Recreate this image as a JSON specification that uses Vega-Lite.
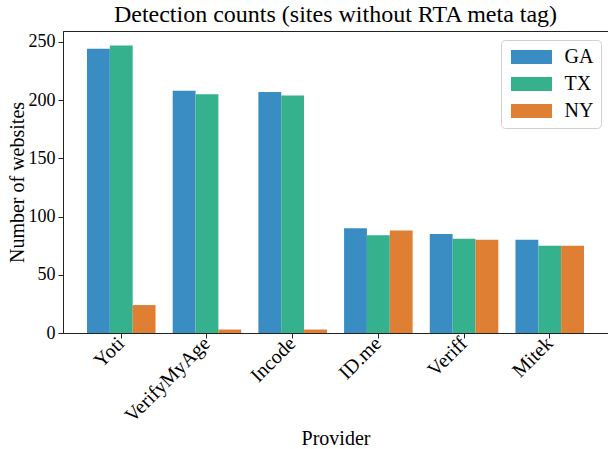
{
  "$schema": "https://vega.github.io/schema/vega-lite/v6.json",
  "width": 545,
  "height": 302,
  "autosize": {"type": "none"},
  "padding": {"left": 63, "top": 31, "right": 0, "bottom": 116},
  "background": "white",
  "title": {
    "text": "Detection counts (sites without RTA meta tag)",
    "fontSize": 24,
    "font": "Liberation Serif",
    "fontWeight": "normal",
    "color": "black",
    "anchor": "middle",
    "offset": -15,
    "baseline": "alphabetic"
  },
  "data": {
    "values": [
      {"provider": "Yoti", "state": "GA", "count": 244},
      {"provider": "Yoti", "state": "TX", "count": 247},
      {"provider": "Yoti", "state": "NY", "count": 24},
      {"provider": "VerifyMyAge", "state": "GA", "count": 208},
      {"provider": "VerifyMyAge", "state": "TX", "count": 205},
      {"provider": "VerifyMyAge", "state": "NY", "count": 3},
      {"provider": "Incode", "state": "GA", "count": 207},
      {"provider": "Incode", "state": "TX", "count": 204},
      {"provider": "Incode", "state": "NY", "count": 3},
      {"provider": "ID.me", "state": "GA", "count": 90},
      {"provider": "ID.me", "state": "TX", "count": 84},
      {"provider": "ID.me", "state": "NY", "count": 88},
      {"provider": "Veriff", "state": "GA", "count": 85},
      {"provider": "Veriff", "state": "TX", "count": 81},
      {"provider": "Veriff", "state": "NY", "count": 80},
      {"provider": "Mitek", "state": "GA", "count": 80},
      {"provider": "Mitek", "state": "TX", "count": 75},
      {"provider": "Mitek", "state": "NY", "count": 75}
    ]
  },
  "mark": {"type": "bar"},
  "encoding": {
    "x": {
      "field": "provider",
      "type": "nominal",
      "sort": ["Yoti", "VerifyMyAge", "Incode", "ID.me", "Veriff", "Mitek"],
      "scale": {"paddingInner": 0.2, "paddingOuter": 0.28},
      "axis": {
        "title": "Provider",
        "labelAngle": -45,
        "labelAlign": "right",
        "labelBaseline": "middle",
        "labelFontSize": 20,
        "labelPadding": 2,
        "titlePadding": 3
      }
    },
    "xOffset": {
      "field": "state",
      "type": "nominal",
      "sort": ["GA", "TX", "NY"],
      "scale": {"paddingInner": 0, "paddingOuter": 0}
    },
    "y": {
      "field": "count",
      "type": "quantitative",
      "scale": {"domain": [0, 259.35], "nice": false},
      "axis": {
        "title": "Number of websites",
        "values": [0, 50, 100, 150, 200, 250],
        "labelPadding": 3,
        "titlePadding": 1
      }
    },
    "color": {
      "field": "state",
      "type": "nominal",
      "sort": ["GA", "TX", "NY"],
      "scale": {"domain": ["GA", "TX", "NY"], "range": ["#3a8dc3", "#35b18e", "#de7f33"]},
      "legend": {
        "title": null,
        "orient": "none",
        "legendX": 438,
        "legendY": 9,
        "symbolType": "M-2.93,-1H2.93V1H-2.93Z",
        "symbolSize": 196,
        "symbolOffset": 13.5,
        "symbolStrokeWidth": 0,
        "labelFontSize": 20,
        "labelFont": "Liberation Serif",
        "labelColor": "black",
        "labelOffset": 23,
        "rowPadding": 7,
        "padding": 7,
        "strokeColor": "#d0d0d0",
        "cornerRadius": 4,
        "fillColor": "white"
      }
    }
  },
  "config": {
    "view": {"stroke": "#222", "strokeWidth": 1},
    "axis": {
      "grid": false,
      "domainColor": "#222",
      "tickColor": "#222",
      "labelColor": "black",
      "titleColor": "black",
      "labelFont": "Liberation Serif",
      "titleFont": "Liberation Serif",
      "labelFontSize": 18,
      "titleFontSize": 20,
      "titleFontWeight": "normal",
      "tickSize": 5
    }
  }
}
